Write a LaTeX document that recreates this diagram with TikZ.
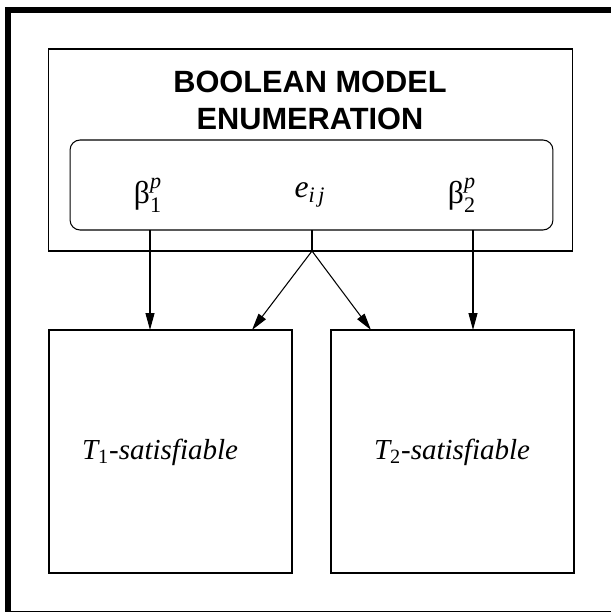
\documentclass[tikz,border=0pt]{standalone}
\usepackage{fontspec}
\usepackage{amsmath}
\setmainfont{Liberation Serif}
\setsansfont{Liberation Sans}
\usetikzlibrary{arrows.meta}

\begin{document}
\begin{tikzpicture}[
  x=0.02cm, y=-0.02cm,
  frame/.style={draw, line width=3.6pt},
  bigbox/.style={draw, rectangle, line width=1pt, minimum width=10.48cm, minimum height=4.04cm},
  varbox/.style={draw, rectangle, rounded corners=0.2cm, line width=0.6pt, minimum width=9.66cm, minimum height=1.8cm},
  satbox/.style={draw, rectangle, line width=1pt, minimum width=4.86cm, minimum height=4.86cm},
  title/.style={font=\sffamily\bfseries\fontsize{17.5}{21}\selectfont, align=center},
  var/.style={font=\fontsize{18}{20}\selectfont},
  sat/.style={font=\itshape\fontsize{16.5}{20}\selectfont},
  link/.style={line width=0.6pt},
  arrow/.style={link, -{Triangle[length=3.4mm, width=1.8mm]}}
]
\useasboundingbox (0,0) rectangle (610,612);
\draw[frame] (8,10) rectangle (616,614);

\node[bigbox] (enum) at (310.5,150) {};
\node[title] (head) at (310,100) {BOOLEAN MODEL\\ENUMERATION};
\node[varbox] (vars) at (311.5,185) {};
\node[var] (b1) at (148,195) {β$^{\text{\itshape p}}_{\text{1}}$};
\node[var] (e) at (310,195) {\textit{e}$_{\text{\itshape i\,j}}$};
\node[var] (b2) at (462,195) {β$^{\text{\itshape p}}_{\text{2}}$};

\node[satbox] (t1) at (170.5,451.5) {};
\node[satbox] (t2) at (452.5,451.5) {};
\node[sat] (t1text) at (160,452) {T\textsubscript{\upshape 1}-satisfiable};
\node[sat] (t2text) at (452,452) {T\textsubscript{\upshape 2}-satisfiable};

\coordinate (split) at (312,251);
\coordinate (in1) at (252,330);
\coordinate (in2) at (371,330);

\draw[arrow] (150,230) -- (150,330);
\draw[link] (312,230) -- (split);
\draw[arrow] (split) -- (in1);
\draw[arrow] (split) -- (in2);
\draw[arrow] (473,230) -- (473,330);
\end{tikzpicture}
\end{document}
